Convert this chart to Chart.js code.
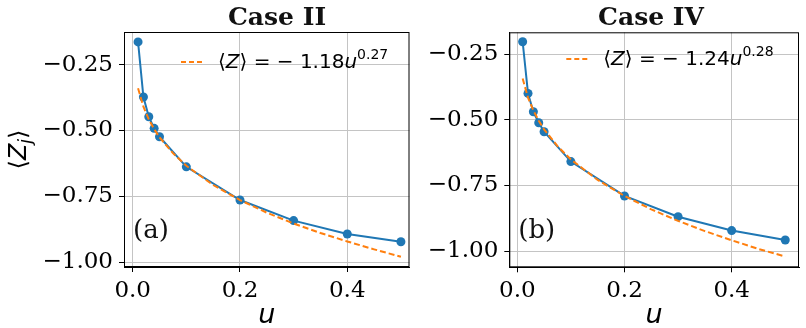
<!DOCTYPE html>
<html>
<head>
<meta charset="utf-8">
<script src="https://cdn.jsdelivr.net/npm/chart.js@4"></script>
<style>
  body { margin: 0; background: #fff; }
  canvas { position: absolute; top: 0; }
  #chartA { left: 0; }
  #chartB { left: 415px; }
</style>
</head>
<body>
<canvas id="chartA" width="415" height="328"></canvas>
<canvas id="chartB" width="391" height="328"></canvas>
<script>
// data
const uValues = [0.01, 0.02, 0.03, 0.04, 0.05, 0.1, 0.2, 0.3, 0.4, 0.5];
const zCaseII = [-0.164, -0.373, -0.448, -0.492, -0.524, -0.638, -0.764, -0.842, -0.893, -0.922];
const zCaseIV = [-0.202, -0.399, -0.469, -0.511, -0.545, -0.659, -0.790, -0.869, -0.922, -0.958];

// dashed fit curves
const fitU = [0.01, 0.02, 0.03, 0.04, 0.05, 0.075, 0.1, 0.15, 0.2, 0.25, 0.3, 0.35, 0.4, 0.45, 0.5];
const fitCaseII = [-0.340, -0.410, -0.458, -0.495, -0.526, -0.586, -0.634, -0.707, -0.764, -0.812, -0.853, -0.889, -0.921, -0.951, -0.979];
const fitCaseIV = [-0.342, -0.415, -0.464, -0.503, -0.536, -0.600, -0.651, -0.729, -0.790, -0.841, -0.885, -0.924, -0.959, -0.992, -1.021];

const xTicks = [0.0, 0.2, 0.4];
const yTicks = [-1.0, -0.75, -0.5, -0.25];

const blue = '#1f77b4';
const orange = '#ff7f0e';

function pts(xs, ys) {
    return xs.map((x, i) => ({ x: x, y: ys[i] }));
}

// titles, legend, labels and the full box
const decor = {
    id: 'decor',
    afterDraw(chart) {
        const o = chart.options.plugins.decor;
        const ctx = chart.ctx;
        const a = chart.chartArea;
        ctx.save();

        // frame
        ctx.strokeStyle = '#000';
        ctx.lineWidth = 1;
        ctx.strokeRect(a.left + 0.5, a.top + 0.5, a.right - a.left - 1, a.bottom - a.top - 1);

        // title
        ctx.fillStyle = '#111';
        ctx.font = 'bold 25px "DejaVu Serif"';
        ctx.textAlign = 'center';
        ctx.textBaseline = 'alphabetic';
        ctx.fillText(o.title, o.titleX, 25);

        // panel tag
        ctx.textAlign = 'left';
        ctx.font = '26px "DejaVu Serif"';
        ctx.fillText(o.tag, a.left + 9, 238);

        // legend
        const ly = o.legendY;
        ctx.strokeStyle = orange;
        ctx.lineWidth = 2;
        ctx.setLineDash([5, 3]);
        ctx.beginPath();
        ctx.moveTo(a.left + 57, ly - 6);
        ctx.lineTo(a.left + 79, ly - 6);
        ctx.stroke();
        ctx.setLineDash([]);

        ctx.fillStyle = '#000';
        let x = a.left + 94;
        const parts = [
            ['20px "DejaVu Sans"', '\u27E8', 0],
            ['italic 20px "DejaVu Sans"', 'Z', 0],
            ['20px "DejaVu Sans"', '\u27E9 = \u2212 ' + o.coef, 0],
            ['italic 20px "DejaVu Sans"', 'u', 0],
            ['14px "DejaVu Sans"', o.expo, -9]
        ];
        parts.forEach(p => {
            ctx.font = p[0];
            ctx.fillText(p[1], x, ly + p[2]);
            x += ctx.measureText(p[1]).width;
        });

        // x label
        ctx.font = 'italic 27px "DejaVu Sans"';
        ctx.textAlign = 'center';
        ctx.fillText('u', (a.left + a.right) / 2, 323);

        // y label
        if (o.yLabel) {
            ctx.translate(26, (a.top + a.bottom) / 2);
            ctx.rotate(-Math.PI / 2);
            ctx.textAlign = 'left';
            const segs = [
                ['24px "DejaVu Sans"', '\u27E8', 0],
                ['italic 24px "DejaVu Sans"', 'Z', 0],
                ['italic 17px "DejaVu Sans"', 'j', 5],
                ['24px "DejaVu Sans"', '\u27E9', 0]
            ];
            let w = 0;
            segs.forEach(s => { ctx.font = s[0]; w += ctx.measureText(s[1]).width; });
            let sx = -w / 2;
            segs.forEach(s => {
                ctx.font = s[0];
                ctx.fillText(s[1], sx, s[2]);
                sx += ctx.measureText(s[1]).width;
            });
        }
        ctx.restore();
    }
};

function makeChart(id, cfg) {
    return new Chart(document.getElementById(id), {
        type: 'line',
        data: {
            datasets: [{
                label: 'fit',
                data: pts(fitU, cfg.fit),
                borderColor: orange,
                borderWidth: 2,
                borderDash: [6, 3],
                pointRadius: 0,
                tension: 0
            }, {
                label: 'data',
                data: pts(uValues, cfg.z),
                borderColor: blue,
                backgroundColor: blue,
                borderWidth: 2,
                pointRadius: 4.5,
                pointBorderWidth: 0,
                tension: 0
            }]
        },
        options: {
            responsive: false,
            animation: false,
            devicePixelRatio: 1,
            layout: { padding: { top: cfg.top, right: cfg.right, left: 0, bottom: 0 } },
            plugins: {
                legend: { display: false },
                tooltip: { enabled: false },
                decor: cfg.decor
            },
            scales: {
                x: {
                    type: 'linear',
                    min: cfg.xMin,
                    max: cfg.xMax,
                    afterBuildTicks: s => { s.ticks = xTicks.map(v => ({ value: v })); },
                    afterFit: s => { s.height = cfg.xAxisH; },
                    ticks: {
                        includeBounds: false,
                        maxRotation: 0,
                        padding: 5,
                        color: '#000',
                        font: { family: 'DejaVu Serif', size: 23 },
                        callback: v => v.toFixed(1)
                    },
                    grid: { color: '#c4c4c4', tickColor: '#000', tickLength: 5, lineWidth: 1 },
                    border: { color: '#000' }
                },
                y: {
                    min: cfg.yMin,
                    max: cfg.yMax,
                    afterBuildTicks: s => { s.ticks = yTicks.map(v => ({ value: v })); },
                    afterFit: s => { s.width = cfg.yAxisW; },
                    ticks: {
                        includeBounds: false,
                        padding: 6,
                        color: '#000',
                        font: { family: 'DejaVu Serif', size: 23 },
                        callback: v => '\u2212' + Math.abs(v).toFixed(2)
                    },
                    grid: { color: '#c4c4c4', tickColor: '#000', tickLength: 5, lineWidth: 1 },
                    border: { color: '#000' }
                }
            }
        },
        plugins: [decor]
    });
}

makeChart('chartA', {
    z: zCaseII, fit: fitCaseII,
    xMin: -0.0162, xMax: 0.516, yMin: -1.018, yMax: -0.1265,
    top: 32, right: 5.5, yAxisW: 124, xAxisH: 61,
    decor: { title: 'Case II', titleX: 277, tag: '(a)', coef: '1.18', expo: '0.27', legendY: 68, yLabel: true }
});

makeChart('chartB', {
    z: zCaseIV, fit: fitCaseIV,
    xMin: -0.0149, xMax: 0.5256, yMin: -1.062, yMax: -0.166,
    top: 32.3, right: 7, yAxisW: 94.3, xAxisH: 60.7,
    decor: { title: 'Case IV', titleX: 236, tag: '(b)', coef: '1.24', expo: '0.28', legendY: 65, yLabel: false }
});
</script>
</body>
</html>
